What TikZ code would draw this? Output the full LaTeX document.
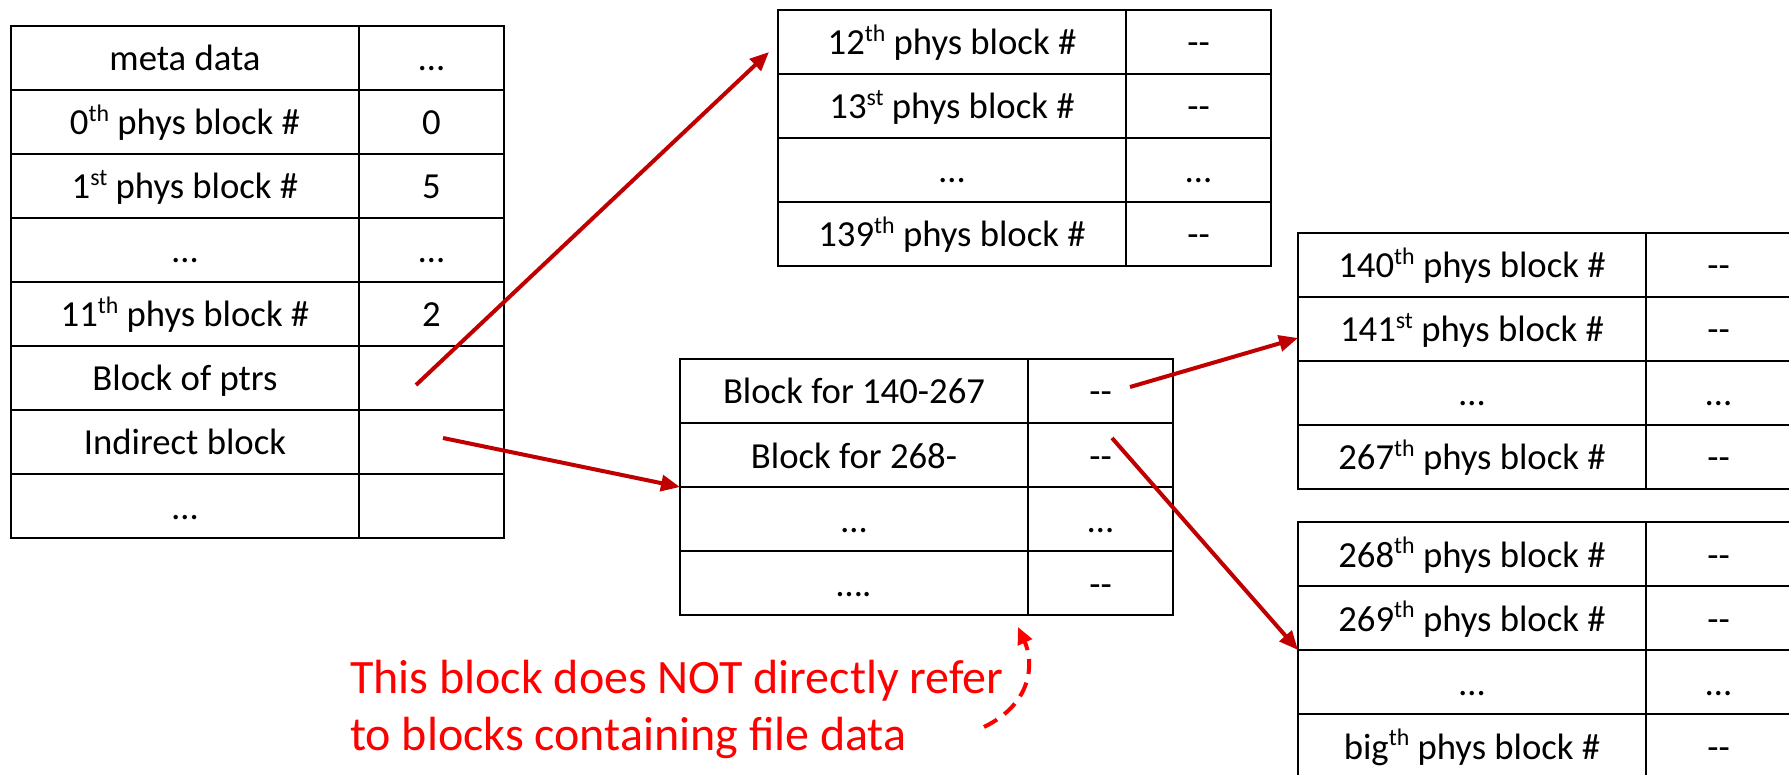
\documentclass[tikz,border=0pt]{standalone}
\usepackage{fontspec}
\setmainfont{Carlito}
\usepackage{graphicx}
\usetikzlibrary{arrows.meta}
\definecolor{ptrred}{HTML}{C00000}
\definecolor{notered}{HTML}{FF0000}
\newcommand\sps[1]{\raisebox{0.36em}{\scalebox{0.65}{#1}}}
\newcommand\dd{-\kern0pt-}
\newcommand\trow[5]{%
  \node[lcell] (#1l) at (#2,#3) {#4};
  \node[rcell] (#1r) at (#1l.north east) {#5};}
\tikzset{
  cellbase/.style={draw, line width=2.5pt, anchor=north west, inner sep=0pt, outer sep=0pt,
    minimum height=64pt, text height=30pt, text depth=4pt, font=\fontsize{36.7}{44}\selectfont},
  lcell/.style={cellbase, minimum width=348pt},
  rcell/.style={cellbase, minimum width=145pt},
  ptr/.style={draw=ptrred, line width=4pt, -{Triangle[length=19pt,width=16pt]}},
  notearrow/.style={draw=notered, line width=4pt, dash pattern=on 15pt off 9pt, -{Triangle[length=17pt,width=15pt]}},
  notetext/.style={text=notered, anchor=north west, align=left, inner sep=0pt, font=\fontsize{48}{57}\selectfont}
}
\begin{document}
\begin{tikzpicture}[x=1pt,y=-1pt]
\useasboundingbox (0,0) rectangle (1789,775);
\clip (0,0) rectangle (1789,775);
% inode table
\trow{a1}{11}{26}{meta data}{…}
\trow{a2}{11}{90}{0\sps{th} phys block \#}{0}
\trow{a3}{11}{154}{1\sps{st} phys block \#}{5}
\trow{a4}{11}{218}{…}{…}
\trow{a5}{11}{282}{11\sps{th} phys block \#}{2}
\trow{a6}{11}{346}{Block of ptrs}{}
\trow{a7}{11}{410}{Indirect block}{}
\trow{a8}{11}{474}{…}{}
% block of ptrs
\trow{b1}{778}{10}{12\sps{th} phys block \#}{\dd}
\trow{b2}{778}{74}{13\sps{st} phys block \#}{\dd}
\trow{b3}{778}{138}{…}{…}
\trow{b4}{778}{202}{139\sps{th} phys block \#}{\dd}
% indirect block
\trow{c1}{680}{359}{Block for 140-267}{\dd}
\trow{c2}{680}{423}{Block for 268-}{\dd}
\trow{c3}{680}{487}{…}{…}
\trow{c4}{680}{551}{….}{\dd}
% 140-267
\trow{d1}{1298}{233}{140\sps{th} phys block \#}{\dd}
\trow{d2}{1298}{297}{141\sps{st} phys block \#}{\dd}
\trow{d3}{1298}{361}{…}{…}
\trow{d4}{1298}{425}{267\sps{th} phys block \#}{\dd}
% 268-
\trow{e1}{1298}{522}{268\sps{th} phys block \#}{\dd}
\trow{e2}{1298}{586}{269\sps{th} phys block \#}{\dd}
\trow{e3}{1298}{650}{…}{…}
\trow{e4}{1298}{714}{big\sps{th} phys block \#}{\dd}
% pointers
\coordinate (p1) at (416,385);
\coordinate (q1) at (769,52);
\draw[ptr] (p1) -- (q1);
\coordinate (p2) at (443,438);
\draw[ptr] (p2) -- (c2l.south west);
\coordinate (p3) at (1130,387);
\coordinate (q3) at (1298,338);
\draw[ptr] (p3) -- (q3);
\coordinate (p4) at (1112,438);
\draw[ptr] (p4) -- (e2l.south west);
% note
\node[notetext] (note) at (350,660) {This block does NOT directly refer\\to blocks containing file data};
\coordinate (n0) at (984,727);
\coordinate (n1) at (1018,627);
\draw[notearrow] (n0) .. controls (1035,702) and (1033,660) .. (n1);
\end{tikzpicture}
\end{document}
